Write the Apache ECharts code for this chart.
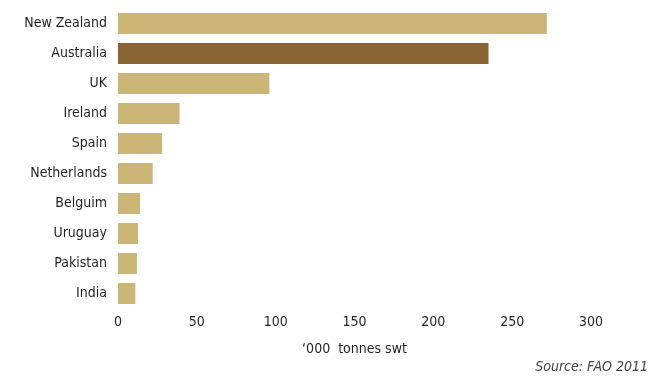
<!DOCTYPE html>
<html>
<head>
<meta charset="utf-8">
<script src="https://cdn.jsdelivr.net/npm/echarts@6/dist/echarts.min.js"></script>
<style>
  html, body { margin: 0; padding: 0; background: #fff; }
  #chart { width: 650px; height: 376px; }
</style>
</head>
<body>
<div id="chart"></div>
<script>
// Sheep meat exports by country, '000 tonnes shipped weight
const countries = ['New Zealand', 'Australia', 'UK', 'Ireland', 'Spain', 'Netherlands', 'Belguim', 'Uruguay', 'Pakistan', 'India'];
const exportsKt = [272, 235, 96, 39, 28, 22, 14, 12.7, 12, 11];
const highlight = 'Australia';
const axisTicks = [0, 300, 50]; // min, max, interval
const axisTitle = '\u2018000  tonnes swt';
const sourceNote = 'Source: FAO 2011';

const FONT = '"DejaVu Sans Condensed", "Liberation Sans Narrow", "Liberation Sans", Arial, sans-serif';
const TEXT = '#231f20';

const chart = echarts.init(document.getElementById('chart'), null, { renderer: 'canvas' });
chart.setOption({
  animation: false,
  grid: { left: 118, right: 59, top: 8.5, bottom: 67.5, containLabel: false },
  xAxis: {
    type: 'value',
    min: axisTicks[0], max: axisTicks[1], interval: axisTicks[2],
    axisLine: { show: false }, axisTick: { show: false }, splitLine: { show: false },
    axisLabel: { color: TEXT, fontFamily: FONT, fontSize: 14, margin: 7 },
    name: axisTitle, nameLocation: 'middle', nameGap: 34,
    nameTextStyle: { color: TEXT, fontFamily: FONT, fontSize: 14 }
  },
  yAxis: {
    type: 'category', data: countries, inverse: true,
    axisLine: { show: false }, axisTick: { show: false }, splitLine: { show: false },
    axisLabel: { color: TEXT, fontFamily: FONT, fontSize: 14, margin: 11 }
  },
  series: [{
    type: 'bar',
    data: exportsKt.map((v, i) => ({
      value: v,
      itemStyle: { color: countries[i] === highlight ? '#8a6534' : '#cbb677' }
    })),
    barCategoryGap: '30%'
  }],
  graphic: [{
    type: 'text', right: 2, top: 360,
    style: { text: sourceNote, fill: '#444', font: 'italic 14px ' + FONT }
  }]
});
</script>
</body>
</html>
